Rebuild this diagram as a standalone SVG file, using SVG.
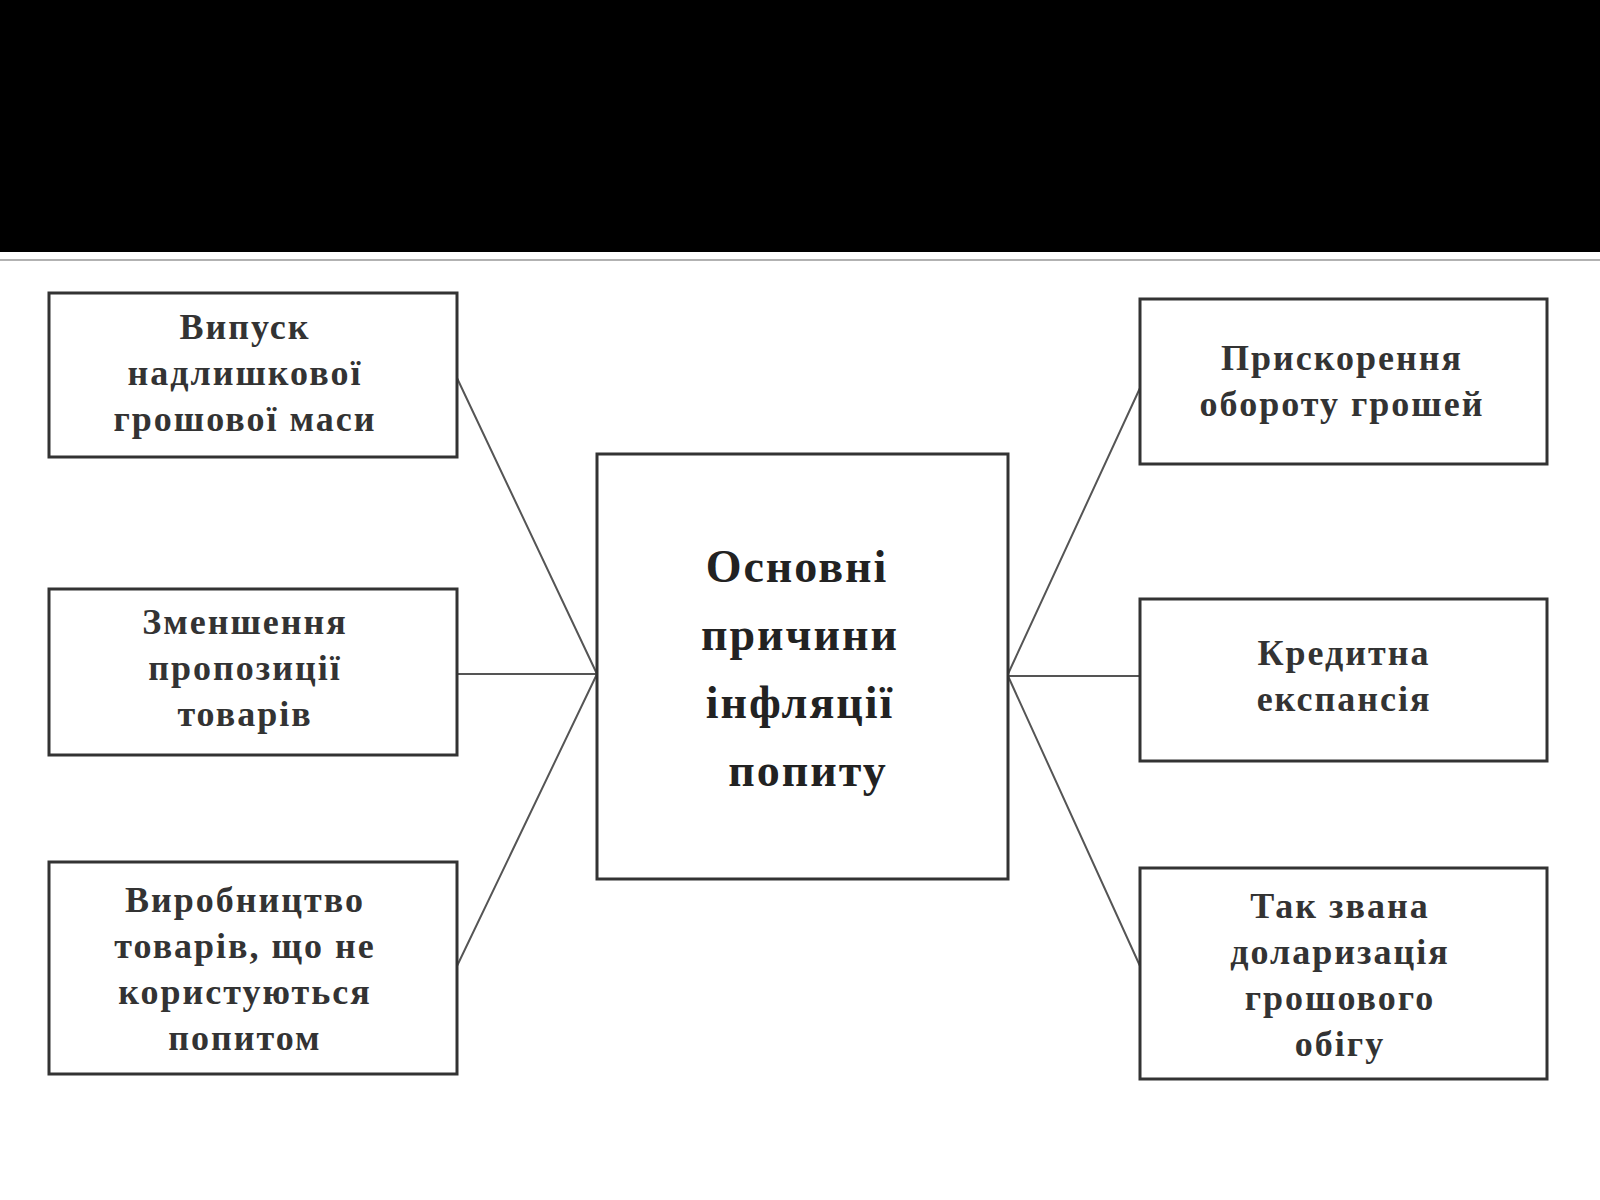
<svg xmlns="http://www.w3.org/2000/svg" width="1600" height="1200" viewBox="0 0 1600 1200">
<style>
.b{fill:#fff;stroke:#333;stroke-width:3}
.t{font-family:"Liberation Serif",serif;font-weight:bold;font-size:36px;letter-spacing:2px;fill:#333;text-anchor:middle}
.c{font-size:46px;letter-spacing:2px;fill:#222}
.l{stroke:#555;stroke-width:2;fill:none}
</style>
<rect width="1600" height="1200" fill="#fff"/>
<rect width="1600" height="252" fill="#000"/>
<line x1="0" y1="260" x2="1600" y2="260" stroke="#999" stroke-width="1.5"/>
<g id="connectors">
<path class="l" d="M457 378L597 674M457 674H597M457 966L597 674"/>
<path class="l" d="M1008 674L1140 388M1008 676H1140M1008 676L1140 966"/>
</g>
<g id="n1"><rect class="b" x="49" y="293" width="408" height="164"/><text class="t" x="245" y="339">Випуск</text><text class="t" x="245" y="385">надлишкової</text><text class="t" x="245" y="431">грошової маси</text></g>
<g id="n2"><rect class="b" x="49" y="589" width="408" height="166"/><text class="t" x="245" y="634">Зменшення</text><text class="t" x="245" y="680">пропозиції</text><text class="t" x="245" y="726">товарів</text></g>
<g id="n3"><rect class="b" x="49" y="862" width="408" height="212"/><text class="t" x="245" y="912">Виробництво</text><text class="t" x="245" y="958">товарів, що не</text><text class="t" x="245" y="1004">користуються</text><text class="t" x="245" y="1050">попитом</text></g>
<g id="center"><rect class="b" x="597" y="454" width="411" height="425"/><text class="t c" x="797" y="582">Основні</text><text class="t c" x="800" y="650">причини</text><text class="t c" x="800" y="718">інфляції</text><text class="t c" x="808" y="786">попиту</text></g>
<g id="n4"><rect class="b" x="1140" y="299" width="407" height="165"/><text class="t" x="1342" y="370">Прискорення</text><text class="t" x="1342" y="416">обороту грошей</text></g>
<g id="n5"><rect class="b" x="1140" y="599" width="407" height="162"/><text class="t" x="1344" y="665">Кредитна</text><text class="t" x="1344" y="711">експансія</text></g>
<g id="n6"><rect class="b" x="1140" y="868" width="407" height="211"/><text class="t" x="1340" y="918">Так звана</text><text class="t" x="1340" y="964">доларизація</text><text class="t" x="1340" y="1010">грошового</text><text class="t" x="1340" y="1056">обігу</text></g>
</svg>
